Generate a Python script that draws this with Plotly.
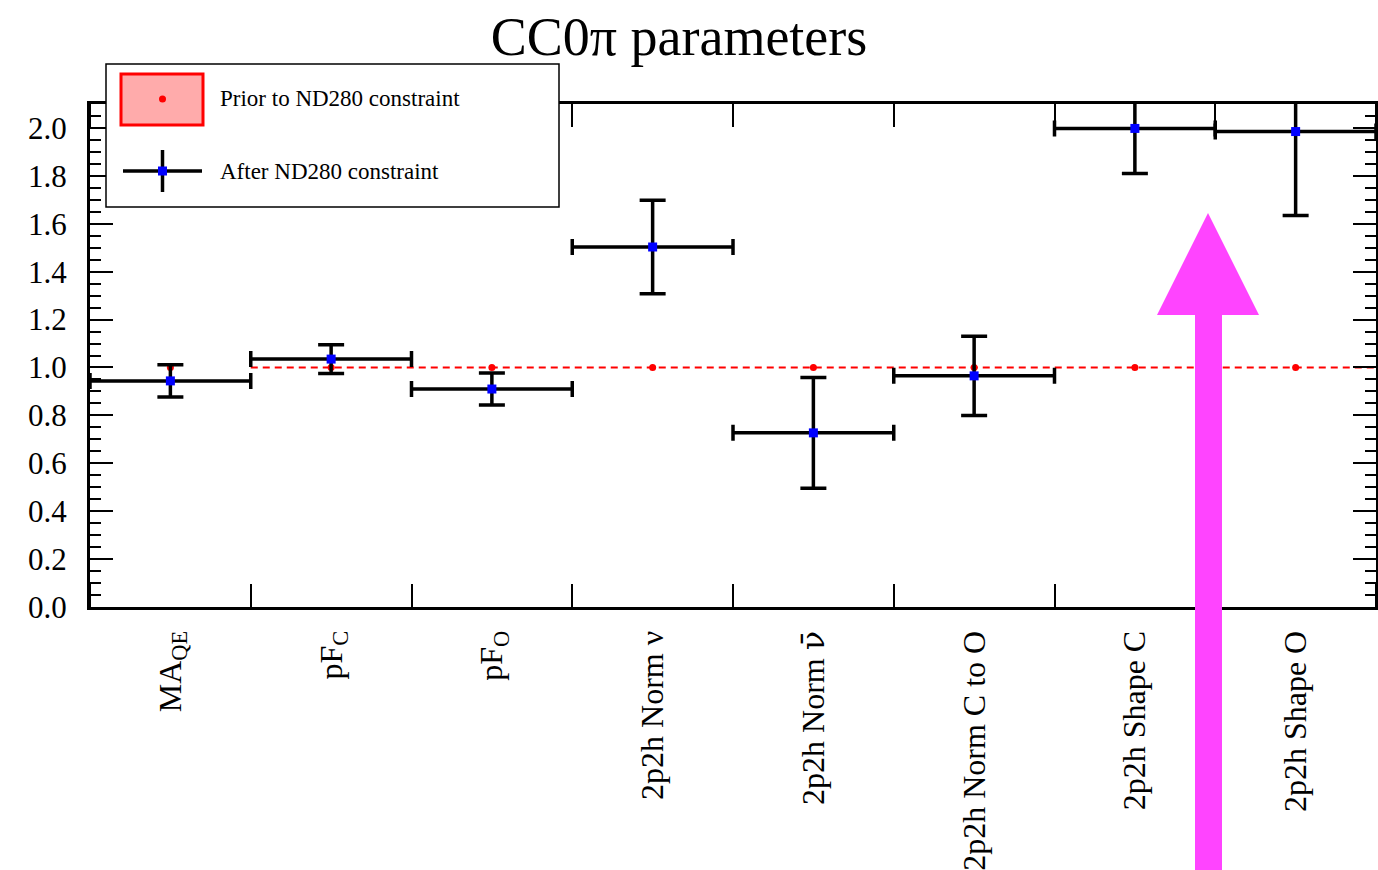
import plotly.graph_objects as go

# ---------------- data ----------------
categories = ["MA<sub>QE</sub>", "pF<sub>C</sub>", "pF<sub>O</sub>", "2p2h Norm ν",
              "2p2h Norm <span style='font-family:DejaVu Serif'>ν̄</span>",
              "2p2h Norm C to O", "2p2h Shape C", "2p2h Shape O"]
prior_vals = [1.0, 1.0, 1.0, 1.0, 1.0, 1.0, 1.0, 1.0]
post_vals = [0.944, 1.035, 0.910, 1.503, 0.727, 0.965, 1.998, 1.985]
post_err = [0.067, 0.060, 0.067, 0.195, 0.231, 0.165, 0.188, 0.350]
bin_halfwidth = [0.5, 0.5, 0.5, 0.5, 0.5, 0.5, 0.5, 0.5]
y_ticks = [0.0, 0.2, 0.4, 0.6, 0.8, 1.0, 1.2, 1.4, 1.6, 1.8, 2.0]

FONT = "Liberation Serif"
W, H = 1378, 870
L, R, T, B = 90, 2, 104, 263
pw, ph = W - L - R, H - T - B

def px(x):
    return (x - L) / pw

def py(y):
    return (H - B - y) / ph

centers = list(range(len(categories)))
edges = [c - 0.5 for c in centers] + [centers[-1] + 0.5]

fig = go.Figure()

# prior dashed line (from second bin edge onward) and prior points
fig.add_trace(go.Scatter(
    x=edges[1:], y=prior_vals[1:] + [prior_vals[-1]], mode="lines", line_shape="hv",
    line=dict(color="#ff0000", width=2, dash="7px,5px"), showlegend=False, hoverinfo="skip"))
fig.add_trace(go.Scatter(
    x=centers, y=prior_vals, mode="markers",
    marker=dict(color="#ff0000", size=7, symbol="circle"), showlegend=False))

# post-fit points with error bars
fig.add_trace(go.Scatter(
    x=centers, y=post_vals, mode="markers",
    marker=dict(color="#0000ff", size=9, symbol="square"),
    error_x=dict(type="data", array=bin_halfwidth, color="black", thickness=3.5, width=8),
    error_y=dict(type="data", array=post_err, color="black", thickness=3.5, width=13),
    showlegend=False))

shapes = []
annotations = []

# legend box (manual)
shapes.append(dict(type="rect", xref="paper", yref="paper",
                   x0=px(106), x1=px(559), y0=py(207), y1=py(64),
                   line=dict(color="black", width=1.5), fillcolor="white", layer="above"))
shapes.append(dict(type="rect", xref="paper", yref="paper",
                   x0=px(121), x1=px(203), y0=py(125), y1=py(74),
                   line=dict(color="red", width=3), fillcolor="rgba(255,0,0,0.33)", layer="above"))
shapes.append(dict(type="circle", xref="paper", yref="paper",
                   x0=px(159), x1=px(166), y0=py(102.5), y1=py(95.5),
                   line=dict(color="red", width=0), fillcolor="red", layer="above"))
shapes.append(dict(type="line", xref="paper", yref="paper",
                   x0=px(123), x1=px(202), y0=py(171), y1=py(171),
                   line=dict(color="black", width=3.5), layer="above"))
shapes.append(dict(type="line", xref="paper", yref="paper",
                   x0=px(162.5), x1=px(162.5), y0=py(150), y1=py(192),
                   line=dict(color="black", width=3.5), layer="above"))
shapes.append(dict(type="rect", xref="paper", yref="paper",
                   x0=px(158), x1=px(167), y0=py(175.5), y1=py(166.5),
                   line=dict(width=0), fillcolor="#0000ff", layer="above"))
annotations.append(dict(xref="paper", yref="paper", x=px(218), y=py(99),
                        text="Prior to ND280 constraint", showarrow=False,
                        xanchor="left", yanchor="middle",
                        font=dict(family=FONT, size=23, color="black")))
annotations.append(dict(xref="paper", yref="paper", x=px(218), y=py(171),
                        text="After ND280 constraint", showarrow=False,
                        xanchor="left", yanchor="middle",
                        font=dict(family=FONT, size=23, color="black")))

# magenta arrow
ax0, ax1 = px(1195), px(1222)
hx0, hx1, hxm = px(1157), px(1259), px(1208)
yb, yh, ytip = py(872), py(315), py(213)
path = (f"M {ax0},{yb} L {ax0},{yh} L {hx0},{yh} L {hxm},{ytip} "
        f"L {hx1},{yh} L {ax1},{yh} L {ax1},{yb} Z")
shapes.append(dict(type="path", xref="paper", yref="paper", path=path,
                   fillcolor="#ff44ff", line=dict(width=0), layer="above"))

fig.update_layout(
    width=W, height=H,
    margin=dict(l=L, r=R, t=T, b=B, pad=0, autoexpand=False),
    paper_bgcolor="white", plot_bgcolor="white",
    font=dict(family=FONT, color="black"),
    title=dict(text="CC0π parameters", x=679 / W, xanchor="center",
               y=1 - 36 / H, yanchor="middle", yref="container",
               font=dict(family=FONT, size=54, color="black")),
    showlegend=False,
    shapes=shapes,
    annotations=annotations,
    xaxis=dict(
        range=[edges[0], edges[-1]], tickmode="array", tickvals=centers, ticktext=categories,
        tickangle=-90, ticks="", showgrid=False, zeroline=False, automargin=False,
        showline=True, linecolor="black", linewidth=3, mirror="ticks",
        ticklabelstandoff=8,
        tickfont=dict(family=FONT, size=32, color="black"),
        minor=dict(ticks="inside", tickmode="array", tickvals=edges, ticklen=23,
                   tickwidth=2, tickcolor="black", showgrid=False),
    ),
    yaxis=dict(
        range=[0, 2.1], tickmode="array", tickvals=y_ticks, tickformat=".1f",
        ticks="inside", ticklen=23, tickwidth=2, tickcolor="black",
        showgrid=False, zeroline=False, automargin=False,
        showline=True, linecolor="black", linewidth=3, mirror="ticks",
        ticklabelstandoff=14,
        tickfont=dict(family=FONT, size=31, color="black"),
        minor=dict(ticks="inside", dtick=0.05, tick0=0, ticklen=11, tickwidth=2,
                   tickcolor="black", showgrid=False),
    ),
)

fig.write_html("out.html")
